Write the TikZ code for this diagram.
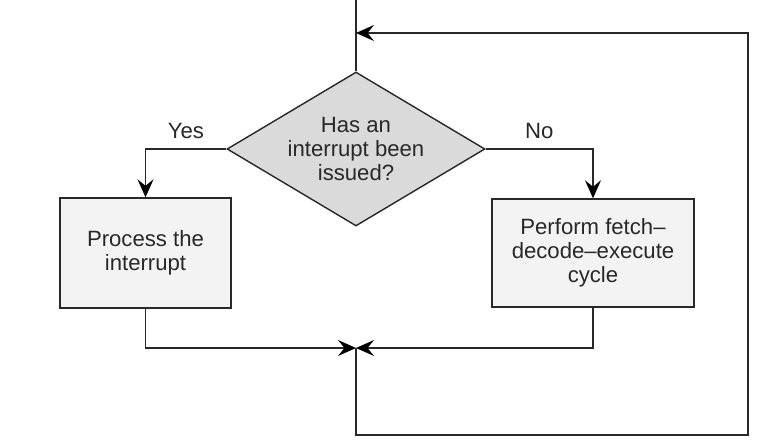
\documentclass[tikz,border=0pt]{standalone}
\usepackage{fontspec}
\setmainfont{Liberation Sans}
\usetikzlibrary{shapes, arrows.meta, positioning}
\definecolor{flowline}{RGB}{40,40,40}
\definecolor{decfill}{RGB}{218,218,218}
\definecolor{boxfill}{RGB}{243,243,243}

\begin{document}
\begin{tikzpicture}[font=\fontsize{12.6}{13.8}\selectfont, text=flowline,
        decision/.style={draw=flowline, line width=0.8pt, diamond, fill=decfill, shape aspect=1.675,
            inner sep=0pt, minimum width=5.16cm, minimum height=3.08cm, align=center},
        procbox/.style={draw=flowline, line width=0.8pt, rectangle, fill=boxfill, align=center},
        flow/.style={draw=flowline, line width=0.8pt, -{Stealth[length=3.6mm, width=3.2mm, inset=1.3mm, color=black]}},
        plain/.style={draw=flowline, line width=0.8pt}]
        \useasboundingbox (0,0) rectangle (15.56,8.94);
        % points on the main loop
        \coordinate (top) at (7.12,8.94);
        \coordinate (entry) at (7.12,8.28);
        \coordinate (merge) at (7.12,1.98);
        \coordinate (loopbl) at (7.12,0.24);
        \coordinate (looptr) at (14.96,8.28);

        \node[decision] (dec) at (7.12,5.96) {Has an\\interrupt been\\issued?};
        \node[procbox, minimum width=3.42cm, minimum height=2.2cm] (proc) at (2.91,3.88) {Process the\\interrupt};
        \node[procbox, minimum width=4.04cm, minimum height=2.16cm] (fde) at (11.86,3.88) {Perform fetch--\\decode--execute\\cycle};

        \draw[plain] (top) -- (dec.north);
        \draw[flow] (dec.west) -| (proc.north) node[pos=0.25, above=2pt] {Yes};
        \draw[flow] (dec.east) -| (fde.north) node[pos=0.25, above=2pt] {No};
        \draw[flow] (proc.south) |- (merge);
        \draw[flow] (fde.south) |- (merge);
        \draw[flow] (merge) -- (loopbl) -| (looptr) -- (entry);
    \end{tikzpicture}
\end{document}
